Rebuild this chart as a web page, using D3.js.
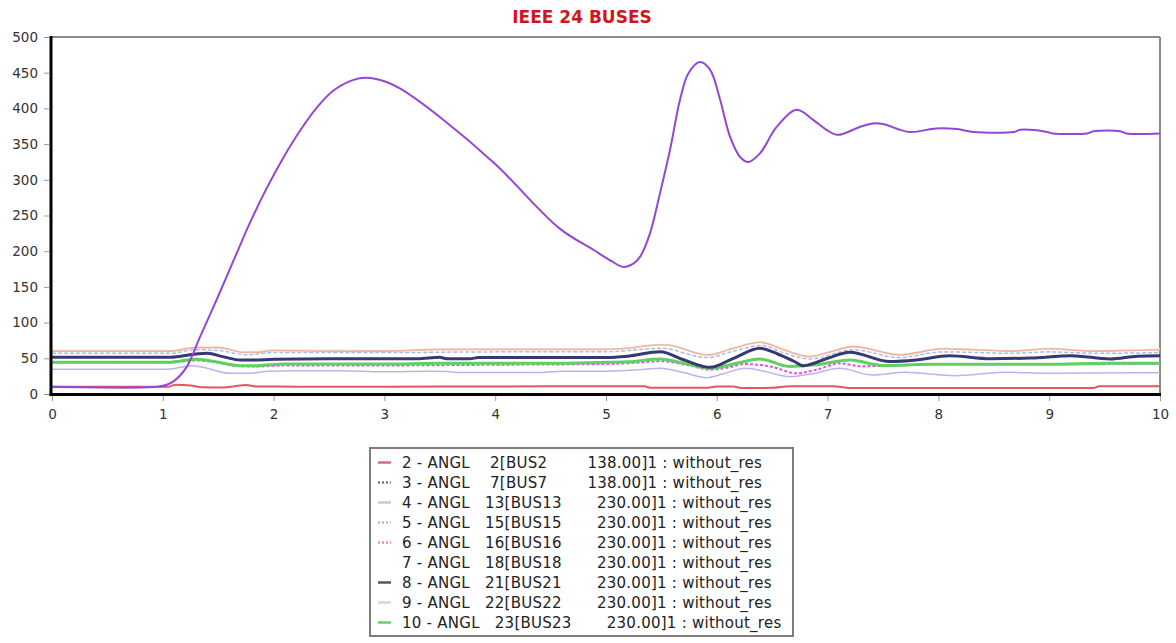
<!DOCTYPE html>
<html><head><meta charset="utf-8">
<script src="https://cdn.jsdelivr.net/npm/d3@7"></script>
<style>
html,body{margin:0;padding:0;background:#fff;}
svg{display:block;}
text{font-family:"DejaVu Sans",Verdana,sans-serif;}
</style></head>
<body>
<svg id="chart" width="1176" height="643"></svg>
<script>
// ---------------- data ----------------
const chartTitle = "IEEE 24 BUSES";
const xTicks = [0,1,2,3,4,5,6,7,8,9,10];
const yTicks = [0,50,100,150,200,250,300,350,400,450,500];

const seriesIds   = [2,3,4,5,6,7,8,9,10];
const busNumbers  = [2,7,13,15,16,18,21,22,23];
const busKV       = ["138.00","138.00","230.00","230.00","230.00","230.00","230.00","230.00","230.00"];
const caseName    = "without_res";

const bus2 = [[0,10.3],[1.05,10.3],[1.12,13],[1.25,12],[1.35,9.5],[1.55,9],[1.65,11],[1.75,12.5],[1.85,10.5],[2.2,10.3],[3,10.3],[4,10.5],[5,11],[5.35,11],[5.4,8.6],[5.9,8.6],[6.0,10.5],[6.15,10.5],[6.22,8.4],[6.5,8.6],[6.66,11],[7.05,11],[7.2,8.4],[9.4,8.4],[9.45,11],[10,11]];
const bus7 = [[0,10],[0.95,10],[1.03,12.6],[1.1,18],[1.216,38],[1.336,80],[1.486,132],[1.636,186],[1.787,240],[1.937,288],[2.088,331],[2.24,369],[2.39,401],[2.54,425],[2.72,440],[2.84,443],[3.0,438],[3.14,428],[3.5,388],[4.0,322],[4.58,232],[4.886,202],[5.05,186],[5.156,178],[5.25,183],[5.307,192],[5.397,225],[5.487,281],[5.578,342],[5.668,412],[5.743,449],[5.848,465],[5.94,454],[6.03,412],[6.12,360],[6.21,332],[6.284,325],[6.39,337],[6.54,374],[6.72,398],[6.87,384],[6.99,370],[7.09,363],[7.29,374],[7.41,379],[7.5,378],[7.74,367],[7.98,372],[8.17,371],[8.32,367],[8.68,367],[8.74,370],[8.98,367],[9.03,365],[9.34,365],[9.4,368],[9.64,368],[9.7,365],[10,365]];
const bus13 = [[0,34.6],[1.05,34.6],[1.15,37],[1.27,39.7],[1.4,36],[1.6,29],[1.78,29],[1.95,32],[2.2,32.7],[2.6,32.7],[3,31],[3.4,32],[3.56,31.5],[3.7,30],[4.4,30],[4.6,32],[5.0,32],[5.3,34],[5.49,36],[5.7,30],[5.91,22.9],[6.05,28],[6.26,36],[6.45,31],[6.66,24.3],[6.85,28],[7.11,36],[7.4,26.6],[7.7,30.4],[8.15,25.6],[8.6,30.4],[9,29],[10,29.9]];
const bus15 = [[0,57],[1.07,57],[1.3,62],[1.5,61],[1.75,55],[2.0,58],[3,58],[4,59],[5,59],[5.2,61],[5.5,64],[5.91,51],[6.15,60],[6.4,68],[6.6,58],[6.84,49],[7.23,62],[7.65,51],[8.04,59],[8.66,57],[9.0,59],[9.4,57],[10,58]];
const bus16 = [[0,44],[1.05,44],[1.3,47],[1.45,45],[1.7,39],[1.85,38.5],[2.1,40],[3,40],[4,41],[5,42],[5.3,44],[5.5,46],[5.75,40],[5.94,34],[6.1,37],[6.25,42],[6.5,38],[6.72,29],[6.9,34],[7.11,43],[7.3,39],[7.6,39.5],[7.9,41.5],[9,41.5],[10,42.5]];
const bus18 = [[0,61],[1.07,61],[1.3,66],[1.5,66],[1.73,59],[2.0,62],[3,61],[4,63],[5,63],[5.5,69],[5.91,56],[6.39,73],[6.84,53],[7.23,67],[7.65,56],[8.04,64],[8.66,61],[9.0,64],[9.4,61],[10,63]];
const bus21 = [[0,51.4],[1.07,51.4],[1.3,56],[1.4,57],[1.55,52],[1.7,47.6],[1.8,47.6],[2.0,48.6],[2.5,49.5],[3.3,49.5],[3.5,51.4],[3.56,49.5],[3.77,49.5],[3.85,51],[5.0,51],[5.2,53],[5.49,59.3],[5.7,48],[5.94,37.3],[6.15,50],[6.39,64],[6.55,56],[6.7,45.5],[6.78,39.7],[7.0,50],[7.2,58.4],[7.56,45.5],[7.8,47.6],[8.1,53.7],[8.47,49.5],[8.83,50.4],[9.2,53.7],[9.55,49],[9.8,53],[10,53.7]];
const bus22 = [[0,60],[1.07,60],[1.3,65],[1.5,65],[1.73,58.4],[1.85,58.4],[2.0,61],[2.5,60],[3.0,60],[3.5,62.5],[4.0,62.5],[5.0,62.5],[5.2,64],[5.45,68.6],[5.55,68.6],[5.91,54.6],[6.15,64],[6.39,72.4],[6.6,62],[6.84,52.3],[7.0,58],[7.23,66.3],[7.65,54.6],[8.04,63.4],[8.3,62],[8.66,60],[9.0,63.4],[9.4,60],[9.75,61],[10,62]];
const bus23 = [[0,44.4],[1.05,44.4],[1.3,48.6],[1.45,46],[1.7,39.7],[1.85,39.7],[2.1,42],[3,42],[3.5,43],[4.5,43],[5.0,44.4],[5.2,45],[5.49,49],[5.7,43],[5.94,36],[6.15,42],[6.39,49],[6.6,40],[6.66,38.4],[6.9,41],[7.2,47.6],[7.5,40],[7.9,41.5],[9,41.5],[9.5,43],[10,43]];

const seriesData = [bus2,bus7,bus13,bus15,bus16,bus18,bus21,bus22,bus23];

// ---------------- styles ----------------
const colors  = ["#e2585c","#9247d6","#b9b4f0","#a9bde6","#e24ee0","#f6f1dc","#353874","#f2b09e","#5fd160"];
const widths  = [2,2,1.5,1.5,2,1.5,3,1.6,3];
const dashes  = [null,null,null,"4,2","3,2",null,null,null,null];
const legendColors = ["#d8687a","#7a70a8","#c9c6e6","#b8bccc","#e48ad8","#ffffff","#555565","#e3d3c8","#66d066"];
const legendDash   = [null,"2,2",null,"2,2","2,2",null,null,null,null];
const drawOrder = [5,7,3,2,4,8,6,0,1];

const svg = d3.select("#chart");
const plot = {left:52, right:1160, top:37, bottom:394};

const x = d3.scaleLinear().domain([0,10]).range([plot.left, plot.right]);
const y = d3.scaleLinear().domain([0,500]).range([plot.bottom, plot.top]);

// title
svg.append("text").attr("x",582).attr("y",23).attr("text-anchor","middle")
  .attr("font-size","17px").attr("font-weight","bold").attr("fill","#d4141c")
  .text(chartTitle);

// clip
svg.append("clipPath").attr("id","clip").append("rect")
  .attr("x",plot.left).attr("y",plot.top-2).attr("width",plot.right-plot.left).attr("height",plot.bottom-plot.top+2);

// frame (top & right gray)
svg.append("line").attr("x1",plot.left-1).attr("x2",plot.right).attr("y1",plot.top).attr("y2",plot.top)
  .attr("stroke","#8a8a8a").attr("stroke-width",2);
svg.append("line").attr("x1",plot.right).attr("x2",plot.right).attr("y1",plot.top).attr("y2",plot.bottom)
  .attr("stroke","#8a8a8a").attr("stroke-width",2);

// lines
const lineMono = d3.line().x(d=>x(d[0])).y(d=>y(d[1])).curve(d3.curveMonotoneX);
const lineSmooth = d3.line().x(d=>x(d[0])).y(d=>y(d[1])).curve(d3.curveCatmullRom.alpha(0.5));
const g = svg.append("g").attr("clip-path","url(#clip)");
drawOrder.forEach(i=>{
  const p = g.append("path").datum(seriesData[i]).attr("d", i===1 ? lineSmooth : lineMono)
    .attr("fill","none").attr("stroke",colors[i]).attr("stroke-width",widths[i])
    .attr("stroke-linejoin","round");
  if (dashes[i]) p.attr("stroke-dasharray",dashes[i]);
});

// axes
const yAxis = d3.axisLeft(y).tickValues(yTicks).tickSize(5).tickPadding(6).tickFormat(d3.format("d"));
const yg = svg.append("g").attr("transform",`translate(${plot.left-3},0)`).call(yAxis);
const xAxis = d3.axisBottom(x).tickValues(xTicks).tickSize(5).tickPadding(8).tickFormat(d3.format("d"));
const xg = svg.append("g").attr("transform",`translate(0,${plot.bottom+2})`).call(xAxis);
[yg,xg].forEach(a=>{
  a.select(".domain").remove();
  a.selectAll(".tick line").attr("stroke","#999");
  a.selectAll(".tick text").attr("font-size","13.5px").attr("fill","#333")
    .attr("font-family","DejaVu Sans, sans-serif");
});
// black axis lines
svg.append("line").attr("x1",plot.left-1).attr("x2",plot.left-1).attr("y1",plot.top-1).attr("y2",plot.bottom+2)
  .attr("stroke","#000").attr("stroke-width",3);
svg.append("line").attr("x1",plot.left-2.5).attr("x2",plot.right+1).attr("y1",plot.bottom+0.5).attr("y2",plot.bottom+0.5)
  .attr("stroke","#000").attr("stroke-width",3);

// legend
const lg = svg.append("g");
lg.append("rect").attr("x",370).attr("y",448).attr("width",423).attr("height",188)
  .attr("fill","#fff").attr("stroke","#7d7d7d").attr("stroke-width",2);
seriesIds.forEach((id,i)=>{
  const cy = 462.5 + i*20;
  lg.append("line").attr("x1",378).attr("x2",391).attr("y1",cy).attr("y2",cy)
    .attr("stroke",legendColors[i]).attr("stroke-width",2.5)
    .attr("stroke-dasharray",legendDash[i]);
  const label = `${id} - ANGL ` + String(busNumbers[i]).padStart(4," ") +
    "[" + ("BUS"+busNumbers[i]).padEnd(12," ") + busKV[i] + "]1 : " + caseName;
  lg.append("text").attr("x",402).attr("y",cy+5).attr("font-size","15px").attr("fill","#222")
    .attr("letter-spacing","0.25px")
    .style("white-space","pre").attr("xml:space","preserve").text(label);
});
</script>
</body></html>
